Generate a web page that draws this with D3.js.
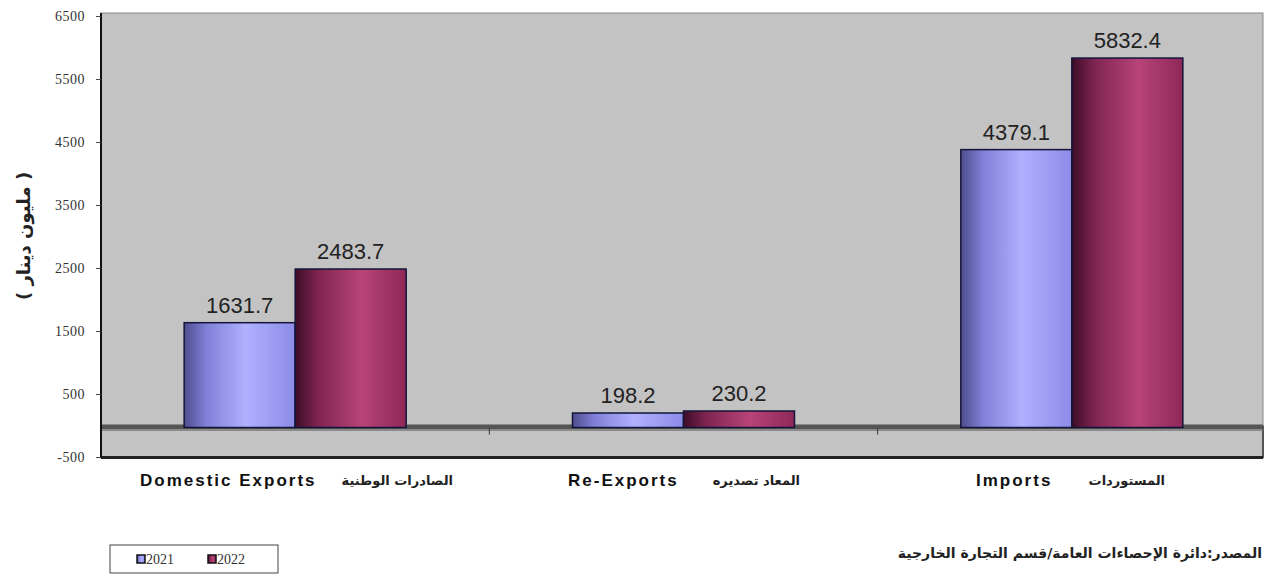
<!DOCTYPE html>
<html>
<head>
<meta charset="utf-8">
<script src="https://cdn.jsdelivr.net/npm/d3@7"></script>
<style>
body { margin: 0; background: #fff; }
svg { display: block; }
</style>
</head>
<body>
<div id="chart"></div>
<script>
var categories = ["Domestic Exports", "Re-Exports", "Imports"];
var categoriesAr = ["الصادرات الوطنية", "المعاد تصديره", "المستوردات"];
var years = ["2021", "2022"];
var values2021 = [1631.7, 198.2, 4379.1];
var values2022 = [2483.7, 230.2, 5832.4];
var yTicks = [-500, 500, 1500, 2500, 3500, 4500, 5500, 6500];

var size = { width: 1266, height: 575 };
var plot = { left: 101, right: 1263, top: 13, bottom: 458 };

var svg = d3.select("#chart").append("svg")
    .attr("width", size.width)
    .attr("height", size.height);

// gradients for the cylinder-like bars
var defs = svg.append("defs");
function grad(id, stops) {
    var g = defs.append("linearGradient").attr("id", id)
        .attr("x1", "0%").attr("x2", "100%").attr("y1", "0%").attr("y2", "0%");
    stops.forEach(function(s) {
        g.append("stop").attr("offset", s[0]).attr("stop-color", s[1]);
    });
}
grad("g2021", [["0%", "#4e4e8e"], ["20%", "#8080d8"], ["55%", "#b0b0ff"], ["100%", "#8c8ce8"]]);
grad("g2022", [["0%", "#3c0c26"], ["20%", "#7e2450"], ["60%", "#b84478"], ["100%", "#8e2858"]]);

var y = d3.scaleLinear().domain([-500, 6500]).range([457, 16]);
var x0 = d3.scaleBand().domain(categories).range([plot.left, 1266]);
var x1 = d3.scaleBand().domain(years).range([0, 222]);

// plot background
svg.append("rect")
    .attr("x", plot.left).attr("y", plot.top)
    .attr("width", plot.right - plot.left).attr("height", plot.bottom - plot.top)
    .attr("fill", "#c3c3c3")
    .attr("stroke", "#8a8a8a").attr("stroke-width", 1);
svg.append("line")
    .attr("x1", plot.right).attr("x2", plot.right)
    .attr("y1", y(0)).attr("y2", plot.bottom)
    .attr("stroke", "#333").attr("stroke-width", 1.5);

// zero line band
svg.append("rect")
    .attr("x", plot.left).attr("y", y(0) - 1)
    .attr("width", plot.right - plot.left).attr("height", 5)
    .attr("fill", "#555");
svg.append("line")
    .attr("x1", plot.left).attr("x2", plot.right)
    .attr("y1", y(0) + 5).attr("y2", y(0) + 5)
    .attr("stroke", "#8a8a8a").attr("stroke-width", 1);

// category separators on zero line
categories.slice(1).forEach(function(c) {
    svg.append("line")
        .attr("x1", x0(c)).attr("x2", x0(c))
        .attr("y1", y(0) + 3).attr("y2", y(0) + 9)
        .attr("stroke", "#333").attr("stroke-width", 1);
});

// bottom frame
svg.append("rect")
    .attr("x", plot.left).attr("y", plot.bottom - 2)
    .attr("width", plot.right - plot.left).attr("height", 3)
    .attr("fill", "#222");

// y axis
var yAxis = d3.axisLeft(y).tickValues(yTicks).tickSize(5).tickFormat(function(d) { return String(d); });
var ya = svg.append("g").attr("transform", "translate(" + plot.left + ",0)").call(yAxis);
ya.select(".domain").attr("stroke", "#111").attr("stroke-width", 2)
    .attr("d", "M0," + plot.top + "V" + plot.bottom);
ya.selectAll(".tick line").attr("stroke", "#444");
ya.selectAll(".tick text")
    .attr("font-family", "'Liberation Serif', 'DejaVu Serif', serif")
    .attr("font-size", 14).attr("fill", "#333").attr("x", -16)
    .attr("letter-spacing", 0.5);

// y title
svg.append("text")
    .attr("transform", "translate(30,236) rotate(-90)")
    .attr("text-anchor", "middle")
    .attr("font-family", "'DejaVu Sans', 'Noto Sans', sans-serif")
    .attr("font-weight", "bold").attr("font-size", 18).attr("fill", "#222")
    .text("( مليون دينار )");

// bars
var rows = categories.map(function(c, i) {
    return { cat: c, vals: [{ year: "2021", v: values2021[i] }, { year: "2022", v: values2022[i] }] };
});

var groups = svg.selectAll("g.cat").data(rows).enter().append("g")
    .attr("class", "cat")
    .attr("transform", function(d) { return "translate(" + (x0(d.cat) + x0.bandwidth() / 2 - 111) + ",0)"; });

groups.selectAll("rect.bar").data(function(d) { return d.vals; }).enter().append("rect")
    .attr("class", "bar")
    .attr("x", function(d) { return x1(d.year); })
    .attr("width", x1.bandwidth())
    .attr("y", function(d) { return y(d.v); })
    .attr("height", function(d) { return y(0) + 2 - y(d.v); })
    .attr("fill", function(d) { return "url(#g" + d.year + ")"; })
    .attr("stroke", "#14143a").attr("stroke-width", 1.5);

groups.selectAll("text.val").data(function(d) { return d.vals; }).enter().append("text")
    .attr("class", "val")
    .attr("x", function(d) { return x1(d.year) + x1.bandwidth() / 2; })
    .attr("y", function(d) { return y(d.v) - 10; })
    .attr("text-anchor", "middle")
    .attr("font-family", "'Liberation Sans', Arial, sans-serif")
    .attr("font-size", 22).attr("fill", "#222")
    .text(function(d) { return d.v.toFixed(1); });

// category labels
var labX = [[140, 453], [568, 800], [976, 1165]];
categories.forEach(function(c, i) {
    svg.append("text")
        .attr("x", labX[i][0]).attr("y", 486)
        .attr("font-family", "'Liberation Sans', Arial, sans-serif")
        .attr("font-weight", "bold").attr("font-size", 17).attr("fill", "#111")
        .attr("letter-spacing", 2)
        .text(c);
    svg.append("text")
        .attr("x", labX[i][1]).attr("y", 485)
        .attr("text-anchor", "end")
        .attr("font-family", "'DejaVu Sans', 'Noto Sans', sans-serif")
        .attr("font-weight", "bold")
        .attr("font-size", 13).attr("fill", "#222")
        .text(categoriesAr[i]);
});

// legend
var lg = svg.append("g").attr("transform", "translate(110,545)");
lg.append("rect").attr("width", 168).attr("height", 28)
    .attr("fill", "#fff").attr("stroke", "#444").attr("stroke-width", 1);
years.forEach(function(yr, i) {
    var gx = 27 + i * 71;
    lg.append("rect").attr("x", gx).attr("y", 10).attr("width", 8).attr("height", 8)
        .attr("fill", "url(#g" + yr + ")").attr("stroke", "#111").attr("stroke-width", 1.5);
    lg.append("text").attr("x", gx + 9).attr("y", 19)
        .attr("font-family", "'Liberation Serif', serif")
        .attr("font-size", 14).attr("fill", "#333")
        .text(yr);
});

// source
svg.append("text")
    .attr("x", 1262).attr("y", 558)
    .attr("text-anchor", "end")
    .attr("font-family", "'DejaVu Sans', 'Noto Sans', sans-serif")
    .attr("font-weight", "bold")
    .attr("font-size", 14).attr("fill", "#222")
    .text("المصدر:دائرة الإحصاءات العامة/قسم التجارة الخارجية");
</script>
</body>
</html>
